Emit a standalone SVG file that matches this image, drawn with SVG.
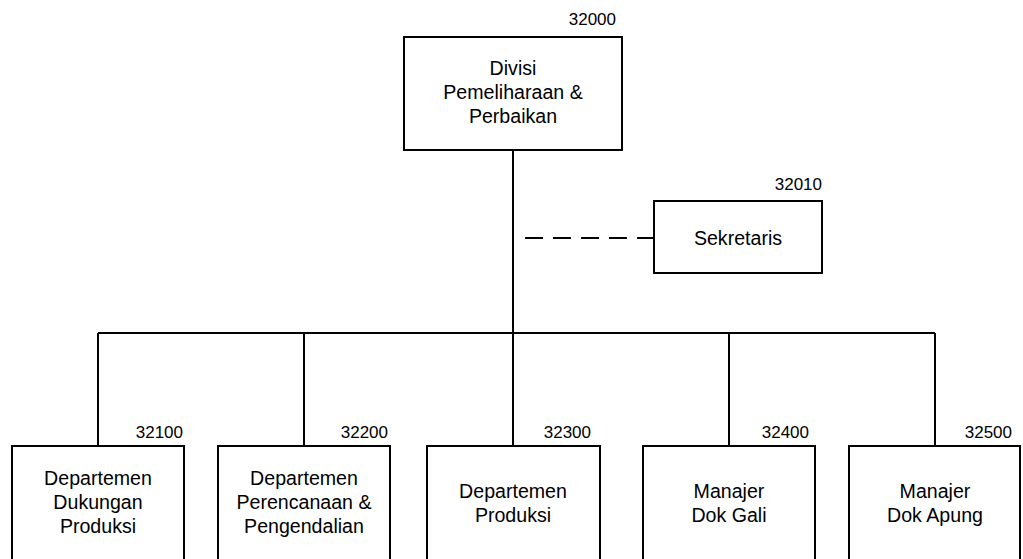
<svg xmlns="http://www.w3.org/2000/svg" width="1023" height="559" viewBox="0 0 1023 559">
  <style>
    .box { fill: #ffffff; stroke: #000000; stroke-width: 2; }
    .line { fill: none; stroke: #000000; stroke-width: 2; }
    .dash { fill: none; stroke: #000000; stroke-width: 2; stroke-dasharray: 18 10; }
    .name { font-family: "Liberation Sans", Arial, sans-serif; font-size: 19.6px; fill: #000000; text-anchor: middle; }
    .code { font-family: "Liberation Sans", Arial, sans-serif; font-size: 17px; fill: #000000; text-anchor: end; }
  </style>

  <!-- reporting lines -->
  <g id="connectors">
    <path class="line" d="M513 150 V333"/>
    <path class="line" d="M98 333 H935"/>
    <path class="line" d="M98 333 V446 M304 333 V446 M513 333 V446 M729 333 V446 M935 333 V446"/>
    <path class="dash" d="M525 238 H654"/>
  </g>

  <g id="n32000">
    <rect class="box" x="404" y="37" width="218" height="113"/>
    <text class="code" x="616" y="25">32000</text>
    <text class="name"><tspan x="513" y="75">Divisi</tspan><tspan x="513" y="99">Pemeliharaan &amp;</tspan><tspan x="513" y="123">Perbaikan</tspan></text>
  </g>

  <g id="n32010">
    <rect class="box" x="654" y="201" width="168" height="72"/>
    <text class="code" x="822" y="190">32010</text>
    <text class="name" x="738" y="245">Sekretaris</text>
  </g>

  <g id="n32100">
    <rect class="box" x="12" y="446" width="172" height="120"/>
    <text class="code" x="183" y="438">32100</text>
    <text class="name"><tspan x="98" y="485">Departemen</tspan><tspan x="98" y="509">Dukungan</tspan><tspan x="98" y="533">Produksi</tspan></text>
  </g>

  <g id="n32200">
    <rect class="box" x="218" y="446" width="172" height="120"/>
    <text class="code" x="388" y="438">32200</text>
    <text class="name"><tspan x="304" y="485">Departemen</tspan><tspan x="304" y="509">Perencanaan &amp;</tspan><tspan x="304" y="533">Pengendalian</tspan></text>
  </g>

  <g id="n32300">
    <rect class="box" x="427" y="446" width="173" height="120"/>
    <text class="code" x="591" y="438">32300</text>
    <text class="name"><tspan x="513" y="498">Departemen</tspan><tspan x="513" y="522">Produksi</tspan></text>
  </g>

  <g id="n32400">
    <rect class="box" x="643" y="446" width="172" height="120"/>
    <text class="code" x="809" y="438">32400</text>
    <text class="name"><tspan x="729" y="498">Manajer</tspan><tspan x="729" y="522">Dok Gali</tspan></text>
  </g>

  <g id="n32500">
    <rect class="box" x="849" y="446" width="171" height="120"/>
    <text class="code" x="1012" y="438">32500</text>
    <text class="name"><tspan x="935" y="498">Manajer</tspan><tspan x="935" y="522">Dok Apung</tspan></text>
  </g>
</svg>
